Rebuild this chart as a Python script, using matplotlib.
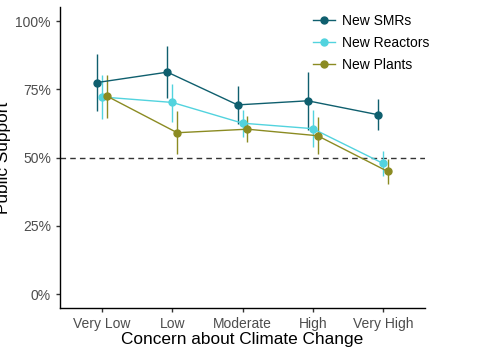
import matplotlib
matplotlib.use("Agg")
import matplotlib.pyplot as plt
import numpy as np

plt.rcParams['font.family'] = ['Liberation Sans', 'DejaVu Sans']

# Data
categories = ["Very Low", "Low", "Moderate", "High", "Very High"]
series_names = ["New SMRs", "New Reactors", "New Plants"]

smr_mean = [77.5, 81.3, 69.3, 70.8, 65.7]
smr_lo = [67.1, 71.9, 62.2, 60.1, 60.1]
smr_hi = [87.8, 90.8, 76.2, 81.4, 71.4]

reactor_mean = [72.2, 70.2, 62.6, 60.6, 47.9]
reactor_lo = [64.2, 63.1, 57.6, 53.7, 43.2]
reactor_hi = [80.2, 76.9, 67.4, 67.4, 52.5]

plant_mean = [72.5, 59.1, 60.4, 58.0, 44.9]
plant_lo = [64.6, 51.2, 55.8, 51.2, 40.5]
plant_hi = [80.2, 67.0, 65.2, 65.0, 49.5]

colors = ['#0f5f6e', '#52d3de', '#8b8b22']
offsets = [-0.07, 0.0, 0.07]

fig = plt.figure(figsize=(4.85, 3.6), dpi=100)
ax = fig.add_axes([0.1237, 0.1453, 0.7526, 0.834])

x = np.arange(1, len(categories) + 1)
ax.axhline(50, color='#333333', linestyle=(0, (4, 3)), linewidth=1.0, zorder=1)

all_series = [
    (smr_mean, smr_lo, smr_hi),
    (reactor_mean, reactor_lo, reactor_hi),
    (plant_mean, plant_lo, plant_hi),
]
for (mean, lo, hi), name, c, off in zip(all_series, series_names, colors, offsets):
    xs = x + off
    ax.vlines(xs, lo, hi, color=c, linewidth=1.0, zorder=2)
    ax.plot(xs, mean, color=c, linewidth=1.0, marker='o', markersize=5,
            label=name, zorder=3)

ax.set_xlim(0.4, 5.6)
ax.set_ylim(-5, 105)
ax.set_xticks(x)
ax.set_xticklabels(categories)
ax.set_yticks([0, 25, 50, 75, 100])
ax.set_yticklabels(['0%', '25%', '50%', '75%', '100%'])
ax.tick_params(axis='both', labelsize=10, colors='#333333', labelcolor='#4d4d4d',
               length=3, width=1)
for s in ['top', 'right']:
    ax.spines[s].set_visible(False)
for s in ['left', 'bottom']:
    ax.spines[s].set_linewidth(1.0)
    ax.spines[s].set_color('black')

ax.set_xlabel("Concern about Climate Change", fontsize=12.4, labelpad=1)
ax.set_ylabel("Public Support", fontsize=12.4, labelpad=3)

ax.legend(loc='upper left', bbox_to_anchor=(300 / 485, 1 - 1.5 / 360),
          bbox_transform=fig.transFigure, frameon=False, fontsize=10,
          handlelength=1.6, handletextpad=0.55, labelspacing=0.58)

fig.savefig('out.png', dpi=100)
